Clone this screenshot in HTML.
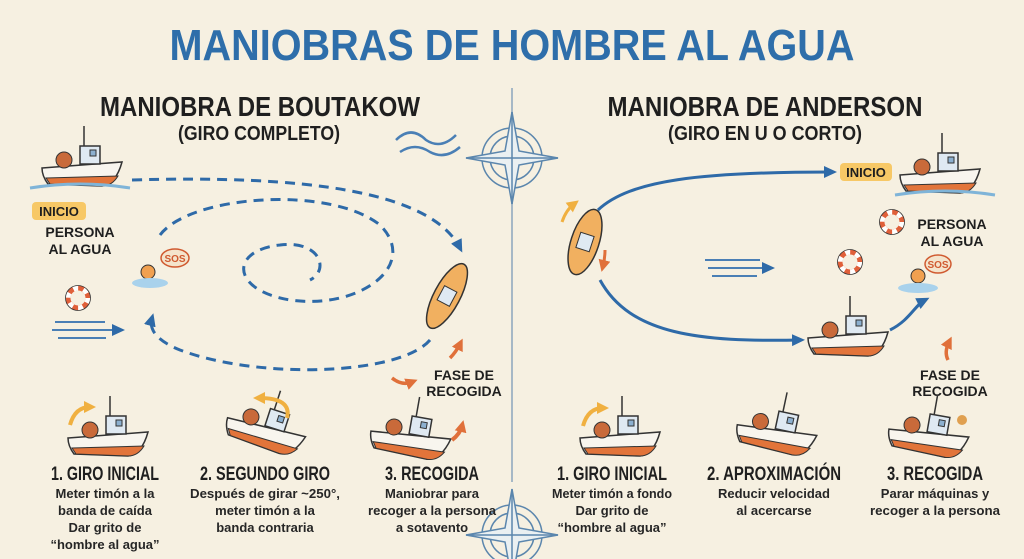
<!DOCTYPE html>
<html><head><meta charset="utf-8"><style>
html,body{margin:0;padding:0;background:#f6f0e1}
svg{display:block}
text{font-family:"Liberation Sans Narrow","Liberation Sans",sans-serif;font-weight:bold}
.h{fill:#1f1f1f;text-anchor:middle}
.d{fill:#262626;text-anchor:middle;font-size:13px;font-weight:bold}
</style></head><body>
<svg width="1024" height="559" viewBox="0 0 1024 559" xmlns="http://www.w3.org/2000/svg">
<defs>
<marker id="ab" markerUnits="userSpaceOnUse" markerWidth="14" markerHeight="14" refX="8" refY="7" orient="auto"><path d="M0,1L13,7L0,13z" fill="#2e6aa8"/></marker>
<marker id="ao" markerUnits="userSpaceOnUse" markerWidth="12" markerHeight="12" refX="6" refY="6" orient="auto"><path d="M0,0L12,6L0,12z" fill="#e0703a"/></marker>
<marker id="ay" markerUnits="userSpaceOnUse" markerWidth="12" markerHeight="12" refX="6" refY="6" orient="auto"><path d="M0,0L12,6L0,12z" fill="#f0b040"/></marker>
<g id="boat">
<path d="M-40,-2 L40,-8 Q34,14 20,16 L-34,14 Q-40,6 -40,-2z" fill="#f8f5ee" stroke="#333" stroke-width="1.5"/>
<path d="M-36,8 L36,6 Q30,16 20,16 L-32,14z" fill="#e2743a" stroke="#333" stroke-width="1"/>
<rect x="-2" y="-24" width="20" height="18" fill="#dfe9f2" stroke="#333" stroke-width="1.5"/>
<rect x="8" y="-20" width="6" height="6" fill="#8cb0d0" stroke="#333"/>
<line x1="2" y1="-24" x2="2" y2="-44" stroke="#333" stroke-width="1.5"/>
<circle cx="-18" cy="-10" r="8" fill="#c96a3a" stroke="#333"/>
</g>
<g id="ring"><circle r="10" fill="none" stroke="#e0603a" stroke-width="5"/><circle r="10" fill="none" stroke="#fff" stroke-width="5" stroke-dasharray="5 5.5"/><circle r="12.5" fill="none" stroke="#333" stroke-width=".8"/></g>
<g id="comp" fill="none" stroke="#5b86ad" stroke-width="1.5">
<circle r="30"/><circle r="22"/>
<path d="M0,-46 L7,-7 L46,0 L7,7 L0,46 L-7,7 L-46,0 L-7,-7z" fill="#eaf0f2"/>
<path d="M0,-46 L0,46 M-46,0 L46,0"/>
</g>
</defs>

<text x="512" y="60" font-size="44" fill="#2e6eaa" text-anchor="middle" textLength="685" lengthAdjust="spacingAndGlyphs">MANIOBRAS DE HOMBRE AL AGUA</text>

<line x1="512" y1="88" x2="512" y2="482" stroke="#8ca5bd" stroke-width="1.5"/>
<use href="#comp" x="512" y="158"/>
<use href="#comp" x="512" y="535"/>

<text class="h" x="260" y="116" font-size="28" textLength="320" lengthAdjust="spacingAndGlyphs">MANIOBRA DE BOUTAKOW</text>
<text class="h" x="259" y="140" font-size="20" font-weight="normal" textLength="162" lengthAdjust="spacingAndGlyphs">(GIRO COMPLETO)</text>
<text class="h" x="765" y="116" font-size="28" textLength="315" lengthAdjust="spacingAndGlyphs">MANIOBRA DE ANDERSON</text>
<text class="h" x="765" y="140" font-size="20" font-weight="normal" textLength="194" lengthAdjust="spacingAndGlyphs">(GIRO EN U O CORTO)</text>

<!-- left diagram -->
<g transform="translate(82,170)"><use href="#boat"/></g>
<path d="M30,188 q50,-8 100,0" stroke="#7fb4d8" stroke-width="3" fill="none"/>
<rect x="32" y="202" width="54" height="18" rx="4" fill="#f7c866"/>
<text class="h" x="59" y="216" font-size="13">INICIO</text>
<text class="h" x="80" y="237" font-size="14">PERSONA</text>
<text class="h" x="80" y="254" font-size="14">AL AGUA</text>
<circle cx="148" cy="272" r="7" fill="#f0a050" stroke="#333"/>
<ellipse cx="150" cy="283" rx="18" ry="5" fill="#a9d2ec"/>
<ellipse cx="175" cy="258" rx="14" ry="9" fill="#f4e4cc" stroke="#d05a30" stroke-width="1.5"/>
<text x="175" y="262" font-size="10" fill="#d05a30" text-anchor="middle">SOS</text>
<use href="#ring" x="78" y="298"/>
<path d="M55,322 h50 M52,330 h62 M58,338 h48" stroke="#4a7fb5" stroke-width="2" fill="none"/>
<path d="M100,330 h20" stroke="#4a7fb5" stroke-width="2" marker-end="url(#ab)"/>
<path d="M132,180 C300,175 430,190 460,248" stroke="#2e6aa8" stroke-width="3" stroke-dasharray="10 7" fill="none" marker-end="url(#ab)"/>
<path d="M430,340 C400,375 260,380 180,350 C150,338 150,325 152,318" stroke="#2e6aa8" stroke-width="3" stroke-dasharray="10 7" fill="none" marker-end="url(#ab)"/>
<path d="M160,235 C190,195 330,185 380,225 C420,265 360,310 290,300 C230,290 230,250 280,245 C320,240 330,270 310,280" stroke="#2e6aa8" stroke-width="3" stroke-dasharray="10 7" fill="none"/>
<g transform="translate(447,296) rotate(-62)"><ellipse rx="36" ry="13" fill="#f1b060" stroke="#333" stroke-width="1.5"/><rect x="-8" y="-7" width="16" height="14" fill="#dfe9f2" stroke="#333"/></g>
<path d="M450,358 q6,-6 10,-14" stroke="#e0703a" stroke-width="3.5" fill="none" marker-end="url(#ao)"/>
<path d="M392,378 q10,8 20,4" stroke="#e0703a" stroke-width="3.5" fill="none" marker-end="url(#ao)"/>
<text class="h" x="464" y="380" font-size="14">FASE DE</text>
<text class="h" x="464" y="396" font-size="14">RECOGIDA</text>
<path d="M396,140 q15,-15 30,0 q15,10 30,-5 M400,152 q15,-10 30,0 q15,8 30,-5" stroke="#4a7fb5" stroke-width="2.5" fill="none"/>

<!-- left steps -->
<g transform="translate(108,440)"><use href="#boat"/></g>
<path d="M70,425 q5,-18 20,-18" stroke="#f0b040" stroke-width="4" fill="none" marker-end="url(#ay)"/>
<g transform="translate(265,432) rotate(18)"><use href="#boat"/></g>
<path d="M287,418 q5,-20 -28,-20" stroke="#f0b040" stroke-width="4" fill="none" marker-end="url(#ay)"/>
<g transform="translate(410,440) rotate(10)"><use href="#boat"/></g>
<path d="M452,440 q8,-6 10,-14" stroke="#e0703a" stroke-width="4" fill="none" marker-end="url(#ao)"/>

<text class="h" x="105" y="480" font-size="19" textLength="108" lengthAdjust="spacingAndGlyphs">1. GIRO INICIAL</text>
<text class="d" x="105" y="498">Meter timón a la</text>
<text class="d" x="105" y="515">banda de caída</text>
<text class="d" x="105" y="532">Dar grito de</text>
<text class="d" x="105" y="549">“hombre al agua”</text>
<text class="h" x="265" y="480" font-size="19" textLength="130" lengthAdjust="spacingAndGlyphs">2. SEGUNDO GIRO</text>
<text class="d" x="265" y="498" textLength="150" lengthAdjust="spacingAndGlyphs">Después de girar ~250°,</text>
<text class="d" x="265" y="515">meter timón a la</text>
<text class="d" x="265" y="532">banda contraria</text>
<text class="h" x="432" y="480" font-size="19" textLength="94" lengthAdjust="spacingAndGlyphs">3. RECOGIDA</text>
<text class="d" x="432" y="498">Maniobrar para</text>
<text class="d" x="432" y="515" textLength="128" lengthAdjust="spacingAndGlyphs">recoger a la persona</text>
<text class="d" x="432" y="532">a sotavento</text>

<!-- right diagram -->
<g transform="translate(585,242) rotate(-72)"><ellipse rx="34" ry="14" fill="#f1b060" stroke="#333" stroke-width="1.5"/><rect x="-8" y="-7" width="16" height="14" fill="#dfe9f2" stroke="#333"/></g>
<path d="M562,222 q4,-12 12,-18" stroke="#f0b040" stroke-width="3" fill="none" marker-end="url(#ay)"/>
<path d="M605,250 q0,8 -2,16" stroke="#e0703a" stroke-width="3" fill="none" marker-end="url(#ao)"/>
<path d="M598,210 C630,180 700,172 832,172" stroke="#2e6aa8" stroke-width="3" fill="none" marker-end="url(#ab)"/>
<path d="M600,280 C630,335 700,342 800,340" stroke="#2e6aa8" stroke-width="3" fill="none" marker-end="url(#ab)"/>
<path d="M890,330 C910,320 915,305 925,300" stroke="#2e6aa8" stroke-width="3" fill="none" marker-end="url(#ab)"/>
<rect x="840" y="163" width="52" height="18" rx="4" fill="#f7c866"/>
<text class="h" x="866" y="177" font-size="13">INICIO</text>
<g transform="translate(940,177)"><use href="#boat"/></g>
<path d="M895,195 q50,-8 100,0" stroke="#7fb4d8" stroke-width="3" fill="none"/>
<use href="#ring" x="892" y="222"/>
<text class="h" x="952" y="229" font-size="14">PERSONA</text>
<text class="h" x="952" y="246" font-size="14">AL AGUA</text>
<use href="#ring" x="850" y="262"/>
<circle cx="918" cy="276" r="7" fill="#f0a050" stroke="#333"/>
<ellipse cx="918" cy="288" rx="20" ry="5" fill="#a9d2ec"/>
<ellipse cx="938" cy="264" rx="13" ry="9" fill="#f4e4cc" stroke="#d05a30" stroke-width="1.5"/>
<text x="938" y="268" font-size="10" fill="#d05a30" text-anchor="middle">SOS</text>
<path d="M705,260 h55 M708,268 h65 M712,276 h45" stroke="#4a7fb5" stroke-width="2" fill="none"/>
<path d="M750,268 h20" stroke="#4a7fb5" stroke-width="2" marker-end="url(#ab)"/>
<g transform="translate(848,340)"><use href="#boat"/></g>
<path d="M948,360 q-4,-8 1,-18" stroke="#e0703a" stroke-width="3.5" fill="none" marker-end="url(#ao)"/>
<text class="h" x="950" y="380" font-size="14">FASE DE</text>
<text class="h" x="950" y="396" font-size="14">RECOGIDA</text>

<!-- right steps -->
<g transform="translate(620,440)"><use href="#boat"/></g>
<path d="M583,426 q5,-18 20,-18" stroke="#f0b040" stroke-width="4" fill="none" marker-end="url(#ay)"/>
<g transform="translate(776,435) rotate(12)"><use href="#boat"/></g>
<g transform="translate(928,438) rotate(10)"><use href="#boat"/></g>
<circle cx="962" cy="420" r="5" fill="#e0a050"/>

<text class="h" x="612" y="480" font-size="19" textLength="110" lengthAdjust="spacingAndGlyphs">1. GIRO INICIAL</text>
<text class="d" x="612" y="498" textLength="120" lengthAdjust="spacingAndGlyphs">Meter timón a fondo</text>
<text class="d" x="612" y="515">Dar grito de</text>
<text class="d" x="612" y="532">“hombre al agua”</text>
<text class="h" x="774" y="480" font-size="19" textLength="134" lengthAdjust="spacingAndGlyphs">2. APROXIMACIÓN</text>
<text class="d" x="774" y="498">Reducir velocidad</text>
<text class="d" x="774" y="515">al acercarse</text>
<text class="h" x="935" y="480" font-size="19" textLength="96" lengthAdjust="spacingAndGlyphs">3. RECOGIDA</text>
<text class="d" x="935" y="498">Parar máquinas y</text>
<text class="d" x="935" y="515" textLength="130" lengthAdjust="spacingAndGlyphs">recoger a la persona</text>
</svg>
</body></html>
